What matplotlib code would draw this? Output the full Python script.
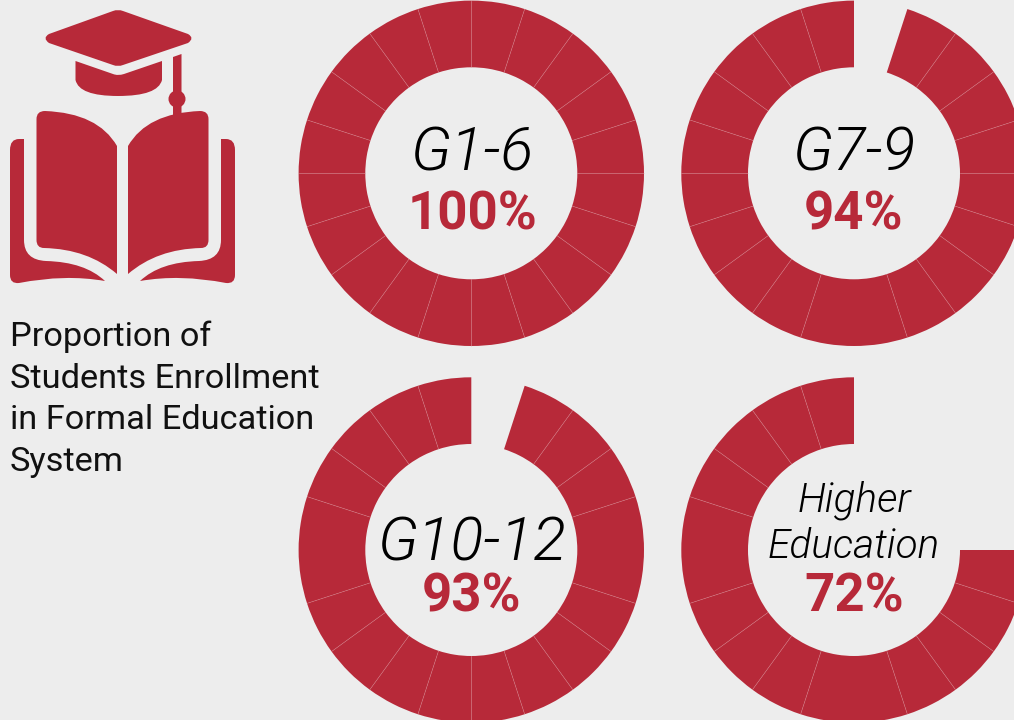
import numpy as np
import matplotlib
matplotlib.use('Agg')
import matplotlib.pyplot as plt
from matplotlib.path import Path
from matplotlib.patches import PathPatch, Circle

RED = '#b72939'
BG = '#ededed'

labels = ['G1-6', 'G7-9', 'G10-12', 'Higher\nEducation']
percents = [100, 94, 93, 72]
filled_segments = [20, 19, 19, 15]
n_segments = 20
# separators which don't show up in the original (clockwise degrees from top)
hidden_seps = [[], [180], [90, 270], [180, 270]]

plt.rcParams['font.family'] = ['Roboto', 'DejaVu Sans']

fig = plt.figure(figsize=(10.14, 7.2), dpi=100, facecolor=BG)
ax = fig.add_axes([0, 0, 1, 1])

# centres and radii are in pixels of the 1014x720 canvas
centres = [(471.3, 546.7), (854, 546.7), (471.3, 170), (854, 170)]
R_OUT = 172.7
R_IN = 106

for (cx, cy), filled, hidden in zip(centres, filled_segments, hidden_seps):
    empty = n_segments - filled
    wedges, _ = ax.pie([1] * n_segments, startangle=90, counterclock=False,
                       center=(cx, cy), radius=R_OUT,
                       wedgeprops=dict(width=R_OUT - R_IN, linewidth=0))
    for i, w in enumerate(wedges):
        if i >= empty:
            w.set_facecolor(RED)
        else:
            w.set_visible(False)
    # thin separators between the segments
    for i in range(empty + 1, n_segments + (1 if empty == 0 else 0)):
        deg = i * 360 / n_segments
        if deg in hidden:
            continue
        a = np.deg2rad(90 - deg)
        ax.plot([cx + R_IN * np.cos(a), cx + R_OUT * np.cos(a)],
                [cy + R_IN * np.sin(a), cy + R_OUT * np.sin(a)],
                color='#d9848e', lw=0.5, alpha=0.55, solid_capstyle='butt')

ax.set_xlim(0, 1014)
ax.set_ylim(0, 720)
ax.set_aspect('auto')
ax.axis('off')


def py(y):
    return 720 - y


M, L, Q, Z = Path.MOVETO, Path.LINETO, Path.CURVE3, Path.CLOSEPOLY


def shape(points, mirror=False):
    verts, codes = [], []
    for code, *xy in points:
        for x, y in xy:
            verts.append((245 - x if mirror else x, py(y)))
            codes.append(code)
    verts.append(verts[0])
    codes.append(Z)
    ax.add_patch(PathPatch(Path(verts, codes), facecolor=RED, edgecolor='none'))


# graduation cap
shape([(M, (113, 11)), (Q, (118, 9), (123, 11)), (L, (188, 34)), (Q, (195, 38), (188, 43)),
       (L, (123, 65)), (Q, (118, 67), (113, 65)), (L, (49, 43)), (Q, (42, 38), (49, 34))])
shape([(M, (75.5, 61)), (L, (113, 74)), (Q, (118, 76), (124, 74)), (L, (162, 61)), (L, (162, 80)),
       (Q, (158, 96), (118, 96)), (Q, (79, 96), (75.5, 80))])
# tassel
shape([(M, (173, 57)), (L, (181.5, 54)), (L, (181.5, 116)), (L, (173, 116))])
ax.add_patch(Circle((177, py(99)), 8.5, facecolor=RED, edgecolor='none'))

# book pages, right side is the mirror of the left one
for mirror in (False, True):
    shape([(M, (36.5, 119)), (Q, (36.5, 111), (45, 111)), (Q, (98, 113), (117, 146)), (L, (117, 274)),
           (Q, (88, 249), (44, 248)), (Q, (36.5, 248), (36.5, 240))], mirror)
    shape([(M, (24, 139)), (L, (24, 240)), (Q, (24, 260), (46, 261)), (Q, (85, 262), (105, 281)),
           (Q, (65, 274), (19, 283)), (Q, (10, 284), (10, 275)), (L, (10, 150)), (Q, (10, 139), (19, 139))],
          mirror)

# left caption
caption = ['Proportion of', 'Students Enrollment', 'in Formal Education', 'System']
for i, line in enumerate(caption):
    ax.text(10, py(337 + i * 41.5), line, fontsize=24.75, color='#111111', va='center', ha='left')

# ring labels
name_style = dict(style='italic', fontweight=300, ha='center', va='center', color='black')
ax.text(471.5, py(154), labels[0], fontsize=44, **name_style)
ax.text(854, py(154), labels[1], fontsize=44, **name_style)
ax.text(471.5, py(544), labels[2], fontsize=44, **name_style)
first, second = labels[3].split('\n')
ax.text(854, py(500), first, fontsize=29.2, **name_style)
ax.text(854, py(547), second, fontsize=29.2, **name_style)

pct_pos = [(472, 215), (854, 215), (471.5, 597), (854, 597)]
for (x, y), p in zip(pct_pos, percents):
    ax.text(x, py(y), f'{p}%', fontsize=38, fontweight='bold', color=RED, ha='center', va='center')

fig.savefig('out.png', dpi=100, facecolor=BG)
